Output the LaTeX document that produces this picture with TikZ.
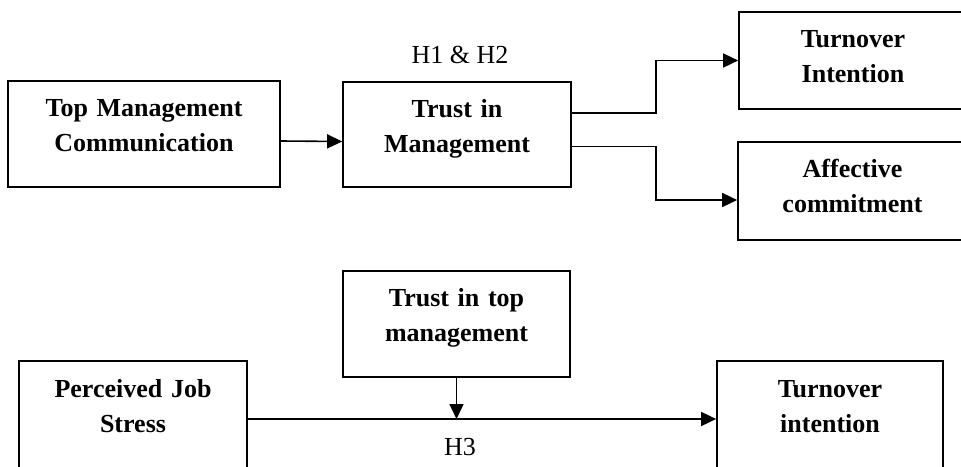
\documentclass[tikz,border=0pt]{standalone}
\usepackage{fontspec}
\setmainfont{Liberation Serif}
\usetikzlibrary{arrows.meta,calc}
\begin{document}
\begin{tikzpicture}[x=1pt,y=-1pt,
  box/.style={draw,line width=1.7pt,rectangle,inner sep=0pt},
  boxtext/.style={anchor=base,inner sep=0pt,text width=220pt,align=center,
    font=\fontsize{26}{35}\selectfont\bfseries},
  hlabel/.style={anchor=base,inner sep=0pt,font=\fontsize{26}{31}\selectfont},
  conn/.style={line width=1.6pt,-{Triangle[length=15pt,width=14pt]}}]
\useasboundingbox (0,0) rectangle (961,466);
\clip (0,0) rectangle (961,466);
\fill[white] (0,0) rectangle (961,466);
% boxes
\node[box,minimum width=272pt,minimum height=106pt] (b1) at (144,134) {};
\node[box,minimum width=228pt,minimum height=105pt] (b2) at (457,134.5) {};
\node[box,minimum width=228pt,minimum height=97pt] (b3) at (853,60.5) {};
\node[box,minimum width=229pt,minimum height=98pt] (b4) at (852.5,191) {};
\node[box,minimum width=227pt,minimum height=106pt] (b5) at (456.5,324) {};
\node[box,minimum width=228pt,minimum height=116pt] (b6) at (133,419) {};
\node[box,minimum width=226pt,minimum height=116pt] (b7) at (830,419) {};
% texts
\node[boxtext] (t1) at ([yshift=-36pt]b1.north) {Top Management\\Communication};
\node[boxtext] (t2) at ([yshift=-36pt]b2.north) {Trust in\\Management};
\node[boxtext] (t3) at ([yshift=-36pt]b3.north) {Turnover\\Intention};
\node[boxtext] (t4) at ([yshift=-36pt]b4.north) {Affective\\commitment};
\node[boxtext] (t5) at ([yshift=-36pt]b5.north) {Trust in top\\management};
\node[boxtext] (t6) at ([yshift=-37pt]b6.north) {Perceived Job\\Stress};
\node[boxtext] (t7) at ([yshift=-37pt]b7.north) {Turnover\\intention};
\node[hlabel] (h12) at (460,63) {H1 \& H2};
\node[hlabel] (h3) at (460,455) {H3};
% connectors
\draw[conn] ([yshift=-7pt]b1.east) -- ([yshift=-7pt]b2.west);
\draw[conn] ([yshift=21.5pt]b2.east) -- ++(84,0) |- (b3.west);
\draw[conn] ([yshift=-12pt]b2.east) -- ++(84,0) |- ([yshift=-9pt]b4.west);
\draw[conn] (b6.east) -- (b7.west);
\coordinate (m) at (b5.south |- b6.east);
\draw[conn] (b5.south) -- (m);
\end{tikzpicture}
\end{document}
